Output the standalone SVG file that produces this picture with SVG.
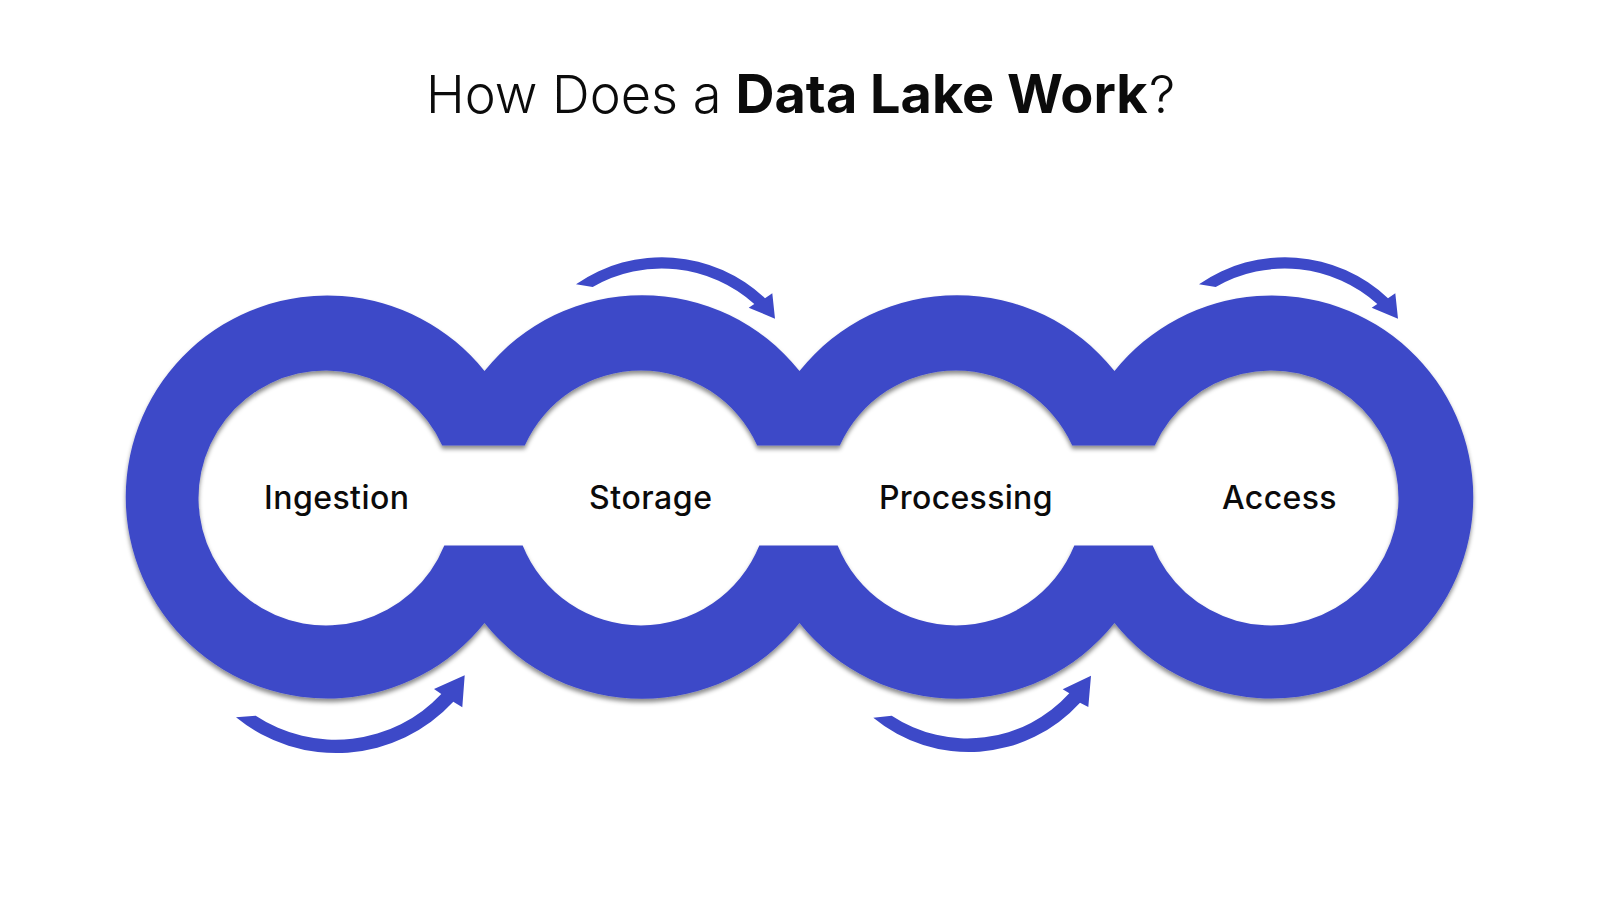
<svg xmlns="http://www.w3.org/2000/svg" width="1600" height="900" viewBox="0 0 1600 900">
<defs>
<style>
.b{fill:#3d49c8}
.l{font-family:"Inter","Liberation Sans",sans-serif;font-size:32px;font-weight:500;fill:#0b0b0b}
.t{font-family:"Inter","Liberation Sans",sans-serif;font-size:52.3px;fill:#0b0b0b}
</style>
<filter id="s" x="-5%" y="-5%" width="110%" height="115%"><feDropShadow dx="0" dy="3.5" stdDeviation="2" flood-color="#000" flood-opacity=".45"/></filter>
<path id="arrow-top" class="b" d="M576 284.3A150 150 0 0 1 765 298.3L772.3 293.3L775 318.7L748.7 307.7L754.3 304A138.5 138.5 0 0 0 592.7 287Z"/>
</defs>
<rect width="1600" height="900" fill="#fff"/>
<text class="t" x="426" y="113"><tspan font-weight="300">How Does a </tspan><tspan x="735.5" font-size="54" font-weight="700">Data Lake Work</tspan><tspan x="1149" font-weight="300">?</tspan></text>
<g id="ring"><path class="b" filter="url(#s)" fill-rule="evenodd" d="M484.5 371A201.5 201.5 0 1 0 484.5 623A201.5 201.5 0 0 0 799.5 623A201.5 201.5 0 0 0 1114.5 623A201.5 201.5 0 1 0 1114.5 371A201.5 201.5 0 0 0 799.5 371A201.5 201.5 0 0 0 484.5 371ZM442.2 445.5H524.8A127.5 127.5 0 0 1 757.2 445.5H839.8A127.5 127.5 0 0 1 1072.2 445.5H1154.8A127.5 127.5 0 1 1 1152.7 545.5H1074.3A127.5 127.5 0 0 1 837.7 545.5H759.3A127.5 127.5 0 0 1 522.7 545.5H444.3A127.5 127.5 0 1 1 442.2 445.5Z"/></g>
<g id="connectors">
<use href="#arrow-top"/>
<use href="#arrow-top" x="623"/>
<path class="b" d="M236 717.3A158.8 158.8 0 0 0 453.3 701.7L462.3 707.3L464.7 675.3L434 689L441.3 694A145 145 0 0 1 255.7 715.7Z"/>
<path class="b" d="M873.3 717.7A150 150 0 0 0 1080 702.7L1088.3 707L1091 675.7L1062.7 689.3L1069.3 693.3A137.5 137.5 0 0 1 891.7 715.7Z"/>
</g>
<g id="n1"><text class="l" x="264" y="508.5" textLength="145">Ingestion</text></g>
<g id="n2"><text class="l" x="589" y="508.5" textLength="123">Storage</text></g>
<g id="n3"><text class="l" x="879" y="508.5" textLength="173.5">Processing</text></g>
<g id="n4"><text class="l" x="1222" y="508.5" textLength="114.5">Access</text></g>
</svg>
